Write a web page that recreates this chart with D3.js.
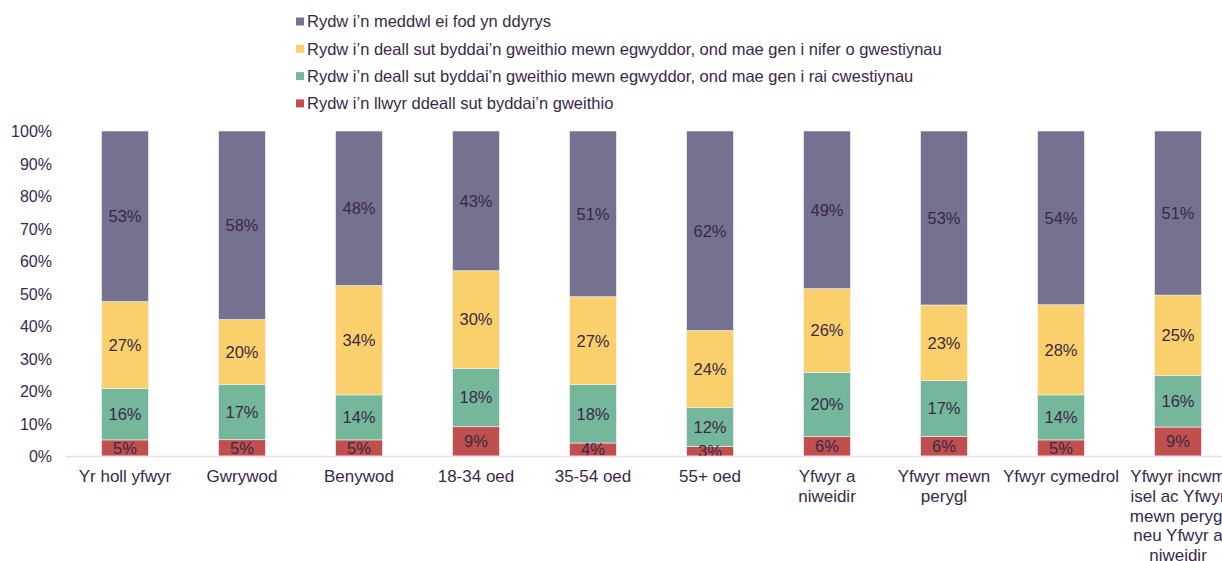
<!DOCTYPE html>
<html>
<head>
<meta charset="utf-8">
<script src="https://cdn.jsdelivr.net/npm/d3@7"></script>
<style>
  html, body { margin: 0; padding: 0; background: #ffffff; }
  svg { display: block; }
  text { font-family: "Liberation Sans", Arial, sans-serif; fill: #3b2848; }
</style>
</head>
<body>
<svg id="chart" width="1222" height="561"></svg>
<script>
// ---- Data ----
const categories = [
  "Yr holl yfwyr", "Gwrywod", "Benywod", "18-34 oed", "35-54 oed", "55+ oed",
  "Yfwyr a niweidir", "Yfwyr mewn perygl", "Yfwyr cymedrol",
  "Yfwyr incwm isel ac Yfwyr mewn perygl neu Yfwyr a niweidir"
];
const categoryLines = [
  ["Yr holl yfwyr"], ["Gwrywod"], ["Benywod"], ["18-34 oed"], ["35-54 oed"], ["55+ oed"],
  ["Yfwyr a", "niweidir"], ["Yfwyr mewn", "perygl"], ["Yfwyr cymedrol"],
  ["Yfwyr incwm", "isel ac Yfwyr", "mewn perygl", "neu Yfwyr a", "niweidir"]
];
const seriesNames = [
  "Rydw i’n llwyr ddeall sut byddai’n gweithio",
  "Rydw i’n deall sut byddai’n gweithio mewn egwyddor, ond mae gen i rai cwestiynau",
  "Rydw i’n deall sut byddai’n gweithio mewn egwyddor, ond mae gen i nifer o gwestiynau",
  "Rydw i’n meddwl ei fod yn ddyrys"
];
const fullyUnderstand   = [5, 5, 5, 9, 4, 3, 6, 6, 5, 9];
const someQuestions     = [16, 17, 14, 18, 18, 12, 20, 17, 14, 16];
const manyQuestions     = [27, 20, 34, 30, 27, 24, 26, 23, 28, 25];
const confusing         = [53, 58, 48, 43, 51, 62, 49, 53, 54, 51];
const yTickValues = [0, 0.1, 0.2, 0.3, 0.4, 0.5, 0.6, 0.7, 0.8, 0.9, 1.0];
const colors = ["#c0504e", "#74b79b", "#fad06c", "#757190"];

// ---- Build table ----
const keys = ["s0", "s1", "s2", "s3"];
const seriesArrays = [fullyUnderstand, someQuestions, manyQuestions, confusing];
const table = categories.map((c, i) => {
  const row = { cat: c, idx: i };
  keys.forEach((k, j) => row[k] = seriesArrays[j][i]);
  return row;
});
const stacked = d3.stack().keys(keys).offset(d3.stackOffsetExpand)(table);

// ---- Scales ----
const svg = d3.select("#chart");
const x = d3.scaleBand().domain(categories).range([66.5, 1236.5]).paddingInner(0.6).paddingOuter(0.3);
const y = d3.scaleLinear().domain([0, 1]).range([456, 131]);

// ---- Y axis ----
const yAxis = d3.axisLeft(y).tickValues(yTickValues).tickFormat(d3.format(".0%")).tickSize(0).tickPadding(0);
const yg = svg.append("g").attr("transform", "translate(52,0)").call(yAxis);
yg.select(".domain").remove();
yg.selectAll("text").style("font-size", "16px").attr("fill", "#3b2848").attr("dy", "0.35em")
  .style("font-family", "'Liberation Sans', Arial, sans-serif");

// ---- Bars ----
const layers = svg.append("g").selectAll("g").data(stacked).enter().append("g")
  .attr("fill", (d, i) => colors[i]);
layers.selectAll("rect").data(d => d).enter().append("rect")
  .attr("x", d => x(d.data.cat))
  .attr("width", x.bandwidth())
  .attr("y", d => y(d[1]))
  .attr("height", d => y(d[0]) - y(d[1]))
  .attr("stroke", "#f4f0f6").attr("stroke-width", 0.6);

// ---- Value labels ----
stacked.forEach((layer, li) => {
  svg.append("g").selectAll("text").data(layer).enter().append("text")
    .attr("x", d => x(d.data.cat) + x.bandwidth() / 2)
    .attr("y", d => (y(d[0]) + y(d[1])) / 2)
    .attr("dy", "0.36em")
    .attr("text-anchor", "middle")
    .style("font-size", "16.5px")
    .text(d => d.data[keys[li]] + "%");
});

// ---- Baseline ----
svg.append("line").attr("x1", 66).attr("x2", 1222).attr("y1", y(0) + 0.5).attr("y2", y(0) + 0.5)
  .attr("stroke", "#eddcf0").attr("stroke-width", 1.5);

// ---- X labels ----
const xl = svg.append("g").selectAll("text").data(categories).enter().append("text")
  .attr("x", d => x(d) + x.bandwidth() / 2)
  .attr("y", 482)
  .attr("text-anchor", "middle")
  .style("font-size", "17px");
xl.each(function(d, i) {
  const t = d3.select(this);
  categoryLines[i].forEach((ln, k) => {
    t.append("tspan").attr("x", x(d) + x.bandwidth() / 2).attr("dy", k === 0 ? 0 : 19.8).text(ln);
  });
});

// ---- Legend ----
const legendOrder = [3, 2, 1, 0];
const lg = svg.append("g");
legendOrder.forEach((si, r) => {
  const cy = 21.5 + r * 27.3;
  lg.append("rect").attr("x", 296).attr("y", cy - 4).attr("width", 8).attr("height", 8).attr("fill", colors[si]);
  lg.append("text").attr("x", 307).attr("y", cy).attr("dy", "0.36em").style("font-size", "16.5px").text(seriesNames[si]);
});
</script>
</body>
</html>
